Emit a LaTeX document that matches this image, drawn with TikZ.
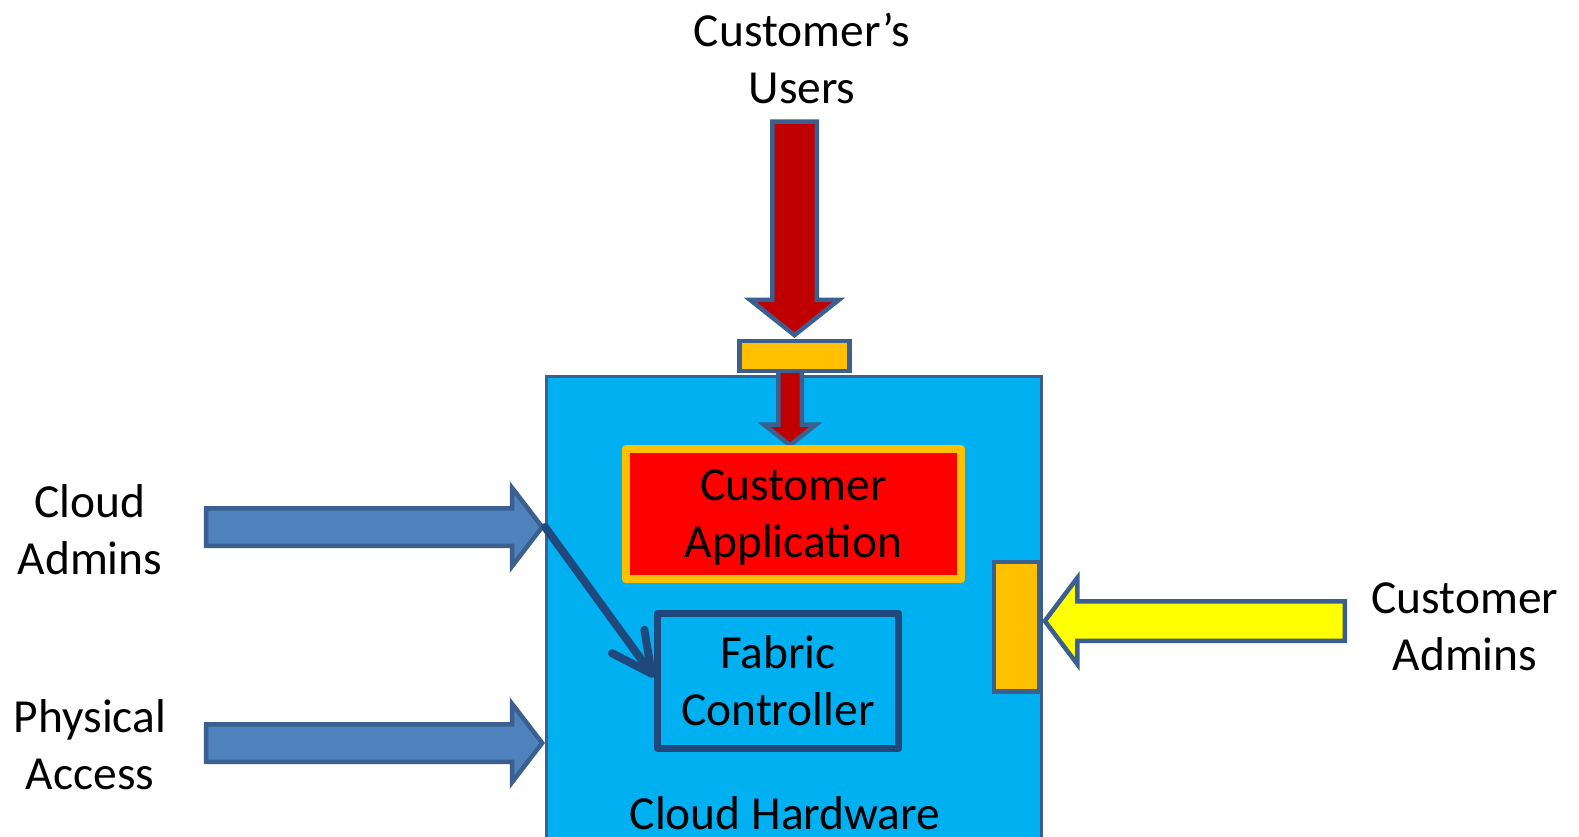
\documentclass[tikz,border=0pt]{standalone}
\usepackage{fontspec}
\setmainfont{Carlito}
\usetikzlibrary{shapes.arrows,arrows.meta}

\definecolor{hwcyan}{HTML}{00B0F0}
\definecolor{edgeblue}{HTML}{3B5F8E}
\definecolor{fcnavy}{HTML}{1F497D}
\definecolor{adminblue}{HTML}{4F81BD}
\definecolor{userred}{HTML}{C00000}
\definecolor{portorange}{HTML}{FFC000}
\definecolor{appred}{HTML}{FF0000}
\definecolor{custyellow}{HTML}{FFFF00}

\tikzset{
  lbl/.style={align=center, inner sep=0pt, font=\fontsize{27}{32.4}\selectfont},
  box/.style={lbl, line join=round},
  hwbox/.style={draw=edgeblue, fill=hwcyan, line width=0.06cm, anchor=north west, inner sep=0pt},
  port/.style={draw=edgeblue, fill=portorange, line width=0.09cm, inner sep=0pt},
  blockarr/.style={single arrow, draw=edgeblue, line width=0.09cm, minimum width=0pt, anchor=tip},
  ctrl/.style={draw=fcnavy, line width=0.16cm, line cap=round, -{Straight Barb[length=0.8cm, width=0.8cm, round]}}
}

\begin{document}
\begin{tikzpicture}[x=0.02cm, y=-0.02cm]
\useasboundingbox (0,0) rectangle (1579,836);
\clip (0,0) rectangle (1579,836);

%Declare nodes.
\node[hwbox, minimum width=9.92cm, minimum height=10.2cm] (hw) at (544.5,374.5) {};
\node[lbl, anchor=base] (hwlbl) at (785,829) {Cloud Hardware};
\node[blockarr, fill=userred, shape border rotate=270, inner sep=0.19cm, single arrow head extend=0.28cm, single arrow tip angle=103, minimum height=1.5cm] (uarrin) at (790,448) {};
\node[port, minimum width=2.2cm, minimum height=0.6cm] (utab) at (794.5,356) {};
\node[box, draw=portorange, fill=appred, line width=0.16cm, minimum width=6.7cm, minimum height=2.62cm, text depth=0pt] (app) at (793.5,514) {Customer\\Application};
\node[box, draw=fcnavy, fill=hwcyan, line width=0.14cm, minimum width=4.82cm, minimum height=2.7cm] (fc) at (778,681) {Fabric\\Controller};
\node[port, minimum width=0.91cm, minimum height=2.59cm] (rtab) at (1016.75,626.75) {};

%Setup arrows.
\node[blockarr, fill=userred, shape border rotate=270, inner sep=0.4cm, single arrow head extend=0.44cm, single arrow tip angle=103, minimum height=4.27cm] (uarr) at (794.5,338) {};
\node[blockarr, fill=adminblue, inner sep=0.33cm, single arrow head extend=0.41cm, single arrow tip angle=105, minimum height=6.72cm] (cadm) at (545,527) {};
\node[blockarr, fill=adminblue, inner sep=0.33cm, single arrow head extend=0.41cm, single arrow tip angle=105, minimum height=6.72cm] (pacc) at (545,743) {};
\node[blockarr, fill=custyellow, shape border rotate=180, inner sep=0.35cm, single arrow head extend=0.47cm, single arrow tip angle=106, minimum height=6.0cm] (cadmr) at (1042,621) {};
\draw[ctrl] (cadm.tip) -- ([yshift=0.08cm]fc.west);

%Labels.
\node[lbl] (cusers) at (802,58) {Customer’s\\Users};
\node[lbl] (cadml) at (90,530) {Cloud\\Admins};
\node[lbl] (paccl) at (90,745) {Physical\\Access};
\node[lbl] (cadmrl) at (1465,627) {Customer\\Admins};

\end{tikzpicture}
\end{document}
